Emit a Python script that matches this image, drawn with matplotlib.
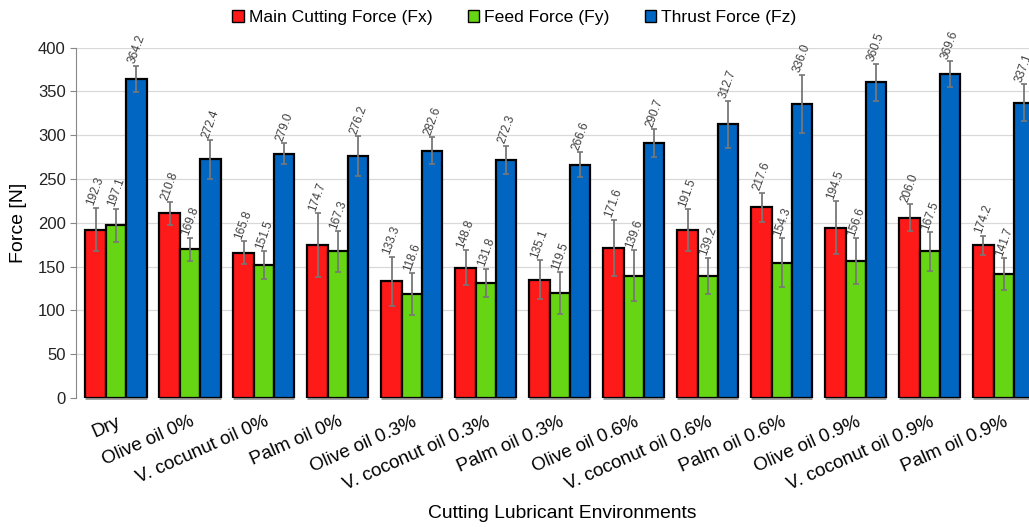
import matplotlib
matplotlib.use("Agg")
import matplotlib.pyplot as plt
import matplotlib.patches as mpatches
import numpy as np

plt.rcParams['font.family'] = ['Liberation Sans', 'DejaVu Sans']

environments = ['Dry', 'Olive oil 0%', 'V. cocunut oil 0%', 'Palm oil 0%',
                'Olive oil 0.3%', 'V. coconut oil 0.3%', 'Palm oil 0.3%',
                'Olive oil 0.6%', 'V. coconut oil 0.6%', 'Palm oil 0.6%',
                'Olive oil 0.9%', 'V. coconut oil 0.9%', 'Palm oil 0.9%']

fx = [192.3, 210.8, 165.8, 174.7, 133.3, 148.8, 135.1, 171.6, 191.5, 217.6, 194.5, 206.0, 174.2]
fy = [197.1, 169.8, 151.5, 167.3, 118.6, 131.8, 119.5, 139.6, 139.2, 154.3, 156.6, 167.5, 141.7]
fz = [364.2, 272.4, 279.0, 276.2, 282.6, 272.3, 266.6, 290.7, 312.7, 336.0, 360.5, 369.6, 337.1]

fx_err = [25, 13, 13, 36, 28, 20, 22, 32, 24, 17, 30, 15, 11]
fy_err = [19, 13, 16, 23, 24, 16, 24, 29, 21, 28, 26, 22, 18]
fz_err = [15, 22, 12, 23, 15, 16, 14, 16, 27, 33, 21, 15, 21]

SERIES = [
    ('Main Cutting Force (Fx)', fx, fx_err, '#ff1a1a'),
    ('Feed Force (Fy)', fy, fy_err, '#66d614'),
    ('Thrust Force (Fz)', fz, fz_err, '#0066c2'),
]

fig = plt.figure(figsize=(10.29, 5.27), dpi=100)
ax = fig.add_axes([0.0739, 0.2448, 0.9261, 0.6647])

x = np.arange(len(environments))
bar_w = 0.275

for i, (name, vals, errs, color) in enumerate(SERIES):
    xs = x + (i - 1) * bar_w
    ax.bar(xs, vals, bar_w, color=color, edgecolor='black', linewidth=1.6, zorder=3)
    ax.errorbar(xs, vals, yerr=errs, fmt='none', ecolor='#777777',
                elinewidth=1.3, capsize=2.5, capthick=1.2, zorder=4)
    for xi, v, e in zip(xs, vals, errs):
        ax.text(xi, v + e + 0.5, f"{v:.1f}", rotation=70, ha='center', va='bottom',
                fontsize=8.5, color='#404040', zorder=5, clip_on=False)

ax.set_xlim(-0.54, 12.34)
ax.set_ylim(0, 400)
ax.set_yticks(np.arange(0, 401, 50))
ax.yaxis.grid(True, color='#d9d9d9', linewidth=0.9, zorder=0)
ax.set_axisbelow(True)

ax.set_xticks(x)
ax.set_xticklabels(environments, rotation=24, ha='right', rotation_mode='anchor',
                   fontsize=13.5)
ax.tick_params(axis='x', length=0, pad=11)
ax.tick_params(axis='y', labelsize=12, colors='#222222', length=4,
               direction='out', color='#888888')

for side in ('top', 'right', 'bottom'):
    ax.spines[side].set_visible(False)
ax.spines['left'].set_color('#888888')

# gray baseline under each group
ax.hlines([0] * len(x), x - 1.5 * bar_w, x + 1.5 * bar_w, color='#888888',
          linewidth=1.8, zorder=2, clip_on=False)

ax.set_ylabel('Force [N]', fontsize=14, labelpad=8)
fig.text(562 / 1029, 1 - 514 / 527, 'Cutting Lubricant Environments',
         ha='center', va='center', fontsize=13.9)

handles = [mpatches.Patch(facecolor=c, edgecolor='black', linewidth=1.0, label=n)
           for n, _, _, c in SERIES]
fig.legend(handles=handles, loc='center', bbox_to_anchor=(0.50, 0.966), ncol=3,
           frameon=False, fontsize=12.6, handlelength=0.65, handleheight=0.65,
           handletextpad=0.3, columnspacing=2.0)

fig.savefig('out.png', dpi=100)
